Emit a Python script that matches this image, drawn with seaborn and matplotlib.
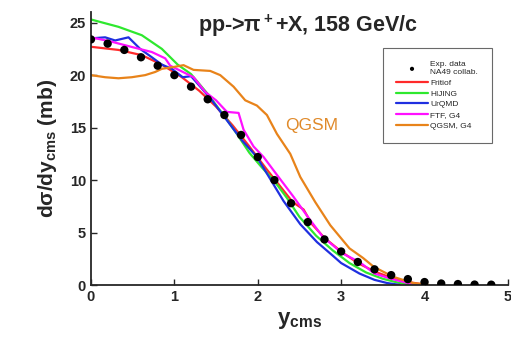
import numpy as np
import pandas as pd
import matplotlib
matplotlib.use('Agg')
import matplotlib.pyplot as plt
import seaborn as sns

# Données expérimentales NA49
y_exp = [0.0, 0.2, 0.4, 0.6, 0.8, 1.0, 1.2, 1.4, 1.6, 1.8, 2.0, 2.2, 2.4, 2.6,
         2.8, 3.0, 3.2, 3.4, 3.6, 3.8, 4.0, 4.2, 4.4, 4.6, 4.8]
dsig_exp = [23.4, 23.0, 22.4, 21.7, 20.9, 20.0, 18.9, 17.7, 16.2, 14.3, 12.2, 10.0,
            7.8, 6.0, 4.35, 3.2, 2.2, 1.5, 0.95, 0.57, 0.29, 0.15, 0.1, 0.05, 0.04]

# Modèles
x_fritiof = [0, 0.33, 0.61, 0.85, 1.09, 1.3, 1.5, 1.7, 1.9, 2.1, 2.25, 2.42, 2.55,
             2.65, 2.8, 3.0, 3.2, 3.4, 3.6, 3.8, 4.0]
y_fritiof = [22.7, 22.4, 21.9, 21.0, 19.8, 18.5, 17.0, 15.2, 13.2, 11.1, 9.6, 7.9,
             7.2, 5.8, 4.5, 3.2, 2.1, 1.3, 0.7, 0.3, 0.05]

x_hijing = [0, 0.33, 0.61, 0.85, 1.04, 1.2, 1.39, 1.59, 1.75, 1.9, 2.05, 2.2, 2.35,
            2.5, 2.7, 2.9, 3.1, 3.3, 3.5, 3.7, 3.85]
y_hijing = [25.3, 24.6, 23.8, 22.5, 21.0, 20.1, 18.3, 16.2, 14.4, 12.6, 11.2, 9.9,
            8.3, 6.5, 4.7, 3.3, 2.1, 1.2, 0.6, 0.2, 0.02]

x_urqmd = [0, 0.17, 0.29, 0.45, 0.59, 0.73, 0.85, 0.97, 1.1, 1.2, 1.3, 1.45, 1.63,
           1.81, 1.99, 2.15, 2.31, 2.51, 2.71, 2.9, 3.0, 3.22, 3.4, 3.55, 3.7]
y_urqmd = [23.5, 23.6, 23.3, 23.6, 22.5, 21.7, 21.0, 20.6, 19.8, 19.9, 19.0, 17.6,
           15.7, 13.8, 12.2, 10.1, 8.0, 5.8, 4.1, 2.8, 2.1, 1.1, 0.5, 0.2, 0.02]

x_ftf = [0, 0.24, 0.48, 0.73, 0.89, 0.95, 1.23, 1.37, 1.5, 1.63, 1.77, 1.83,
         1.95, 2.07, 2.23, 2.43, 2.6, 2.78, 3.02, 3.22, 3.4, 3.6, 3.8, 3.95]
y_ftf = [23.6, 23.2, 22.7, 22.2, 21.6, 20.9, 19.8, 18.4, 17.6, 16.5, 16.4, 14.8,
         13.2, 12.2, 10.5, 8.4, 6.5, 4.6, 3.0, 2.2, 1.1, 0.6, 0.2, 0.02]

x_qgsm = [0, 0.17, 0.33, 0.49, 0.65, 0.77, 0.85, 1.01, 1.11, 1.23, 1.43, 1.55, 1.71,
          1.85, 1.99, 2.11, 2.23, 2.39, 2.51, 2.69, 2.87, 3.1, 3.26, 3.39, 3.62, 3.86, 4.05]
y_qgsm = [20.0, 19.8, 19.7, 19.8, 20.0, 20.3, 20.6, 20.8, 20.95, 20.5, 20.4, 20.0, 18.9,
          17.6, 17.1, 16.2, 14.4, 12.5, 10.3, 7.9, 5.7, 3.5, 2.6, 1.75, 0.8, 0.2, 0.02]

models = [
    ('Fritiof', x_fritiof, y_fritiof, '#ff2a2a'),
    ('HIJING', x_hijing, y_hijing, '#2ee82e'),
    ('UrQMD', x_urqmd, y_urqmd, '#1f2fe0'),
    ('FTF, G4', x_ftf, y_ftf, '#ff10ff'),
    ('QGSM, G4', x_qgsm, y_qgsm, '#e8831a'),
]

sns.set_style('ticks')
plt.rcParams['font.family'] = ['Liberation Sans', 'DejaVu Sans']
plt.rcParams['mathtext.fontset'] = 'custom'
plt.rcParams['mathtext.rm'] = 'Liberation Sans'
plt.rcParams['mathtext.it'] = 'Liberation Sans:italic'
plt.rcParams['mathtext.bf'] = 'Liberation Sans:bold'

fig = plt.figure(figsize=(5.11, 3.37), dpi=100)
ax = fig.add_axes([0.178, 0.154, 0.816, 0.81])

sns.scatterplot(x=y_exp, y=dsig_exp, color='black', s=36, edgecolor='none',
                ax=ax, label='Exp. data\nNA49 collab.', zorder=5)
for name, xs, ys, col in models:
    sns.lineplot(x=xs, y=ys, color=col, lw=1.6, ax=ax, label=name, sort=False)

ax.set_xlim(0, 5)
ax.set_ylim(0, 26)
ax.set_xticks([0, 1, 2, 3, 4, 5])
ax.set_yticks([0, 5, 10, 15, 20, 25])
ax.tick_params(direction='in', length=4, width=1, labelsize=10.5)
for lbl in ax.get_xticklabels() + ax.get_yticklabels():
    lbl.set_fontweight('bold')
sns.despine(ax=ax)
for sp in ['left', 'bottom']:
    ax.spines[sp].set_linewidth(1.3)

ax.set_xlabel(r'$\mathbf{y_{cms}}$', fontsize=16, labelpad=4)
ax.set_ylabel(r'$\mathbf{d\sigma/dy_{cms}}$ (mb)', fontsize=15, fontweight='bold', labelpad=8)

ax.text(0.52, 0.95, r'pp->$\mathbf{\pi^+}$+X, 158 GeV/c', transform=ax.transAxes,
        ha='center', va='center', fontsize=15.5, fontweight='bold')
ax.text(2.33, 14.8, 'QGSM', color='#e08a2a', fontsize=12.5)

leg = ax.legend(loc='upper left', bbox_to_anchor=(0.69, 0.885), fontsize=6,
                frameon=True, fancybox=False, edgecolor='#444444', handlelength=3.8,
                borderpad=1.6, labelspacing=0.35, markerscale=0.5, handletextpad=0.3)
leg.get_frame().set_linewidth(0.8)

fig.savefig('out.png', dpi=100)
